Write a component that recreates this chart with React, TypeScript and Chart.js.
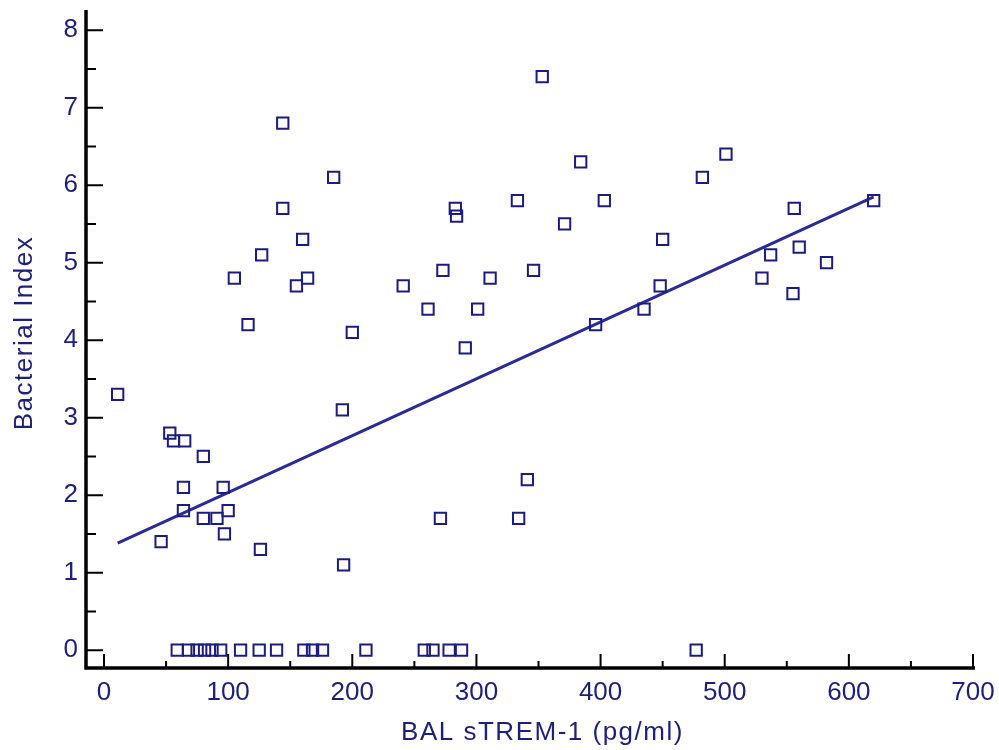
import React, { useEffect, useRef } from "react";
import { Chart, registerables } from "chart.js";

Chart.register(...registerables);

// BAL sTREM-1 (pg/ml) and Bacterial Index, one entry per patient
const stremValues = [
  11, 46, 53, 56, 65, 64, 64, 80, 80, 91, 96, 100, 97, 126, 105, 116, 127, 144, 144, 160,
  155, 164, 185, 192, 193, 200, 241, 261, 273, 283, 284, 291, 301, 311, 271, 333, 334, 341,
  346, 353, 371, 384, 396, 403, 435, 448, 450, 482, 501, 530, 537, 555, 556, 560, 582, 620,
  59, 68, 75, 81, 87, 94, 110, 125, 139, 161, 168, 176, 211, 258, 265, 278, 288, 477,
];
const bacterialIndex = [
  3.3, 1.4, 2.8, 2.7, 2.7, 2.1, 1.8, 2.5, 1.7, 1.7, 2.1, 1.8, 1.5, 1.3, 4.8, 4.2, 5.1, 6.8, 5.7, 5.3,
  4.7, 4.8, 6.1, 3.1, 1.1, 4.1, 4.7, 4.4, 4.9, 5.7, 5.6, 3.9, 4.4, 4.8, 1.7, 5.8, 1.7, 2.2,
  4.9, 7.4, 5.5, 6.3, 4.2, 5.8, 4.4, 4.7, 5.3, 6.1, 6.4, 4.8, 5.1, 4.6, 5.7, 5.2, 5.0, 5.8,
  0, 0, 0, 0, 0, 0, 0, 0, 0, 0, 0, 0, 0, 0, 0, 0, 0, 0,
];

// regression line end points
const fitX = [11, 620];
const fitY = [1.38, 5.85];

// axes ticks
const xTicks = [0, 100, 200, 300, 400, 500, 600, 700];
const xMinorTicks = [50, 150, 250, 350, 450, 550, 650];
const yTicks = [0, 1, 2, 3, 4, 5, 6, 7, 8];
const yMinorTicks = [0.5, 1.5, 2.5, 3.5, 4.5, 5.5, 6.5, 7.5];

const xTitle = "BAL sTREM-1 (pg/ml)";
const yTitle = "Bacterial Index";

const NAVY = "#1e1e7c";
const FONT = '"Liberation Sans", Arial, Helvetica, sans-serif';

const axesPlugin = {
  id: "axesTicks",
  afterDatasetsDraw(chart: any) {
    const { ctx, chartArea, scales } = chart;
    const { left, right, top, bottom } = chartArea;
    const x = scales.x;
    const y = scales.y;
    ctx.save();
    ctx.strokeStyle = "#000";
    ctx.lineCap = "butt";
    ctx.lineWidth = 3.5;
    ctx.beginPath();
    ctx.moveTo(left, top);
    ctx.lineTo(left, bottom);
    ctx.lineTo(right + 2, bottom);
    ctx.stroke();

    ctx.lineWidth = 2;
    ctx.beginPath();
    xTicks.forEach((v) => {
      const px = x.getPixelForValue(v);
      ctx.moveTo(px, bottom);
      ctx.lineTo(px, bottom - 14);
    });
    xMinorTicks.forEach((v) => {
      const px = x.getPixelForValue(v);
      ctx.moveTo(px, bottom);
      ctx.lineTo(px, bottom - 7);
    });
    yTicks.forEach((v) => {
      const py = y.getPixelForValue(v);
      ctx.moveTo(left, py);
      ctx.lineTo(left + 17, py);
    });
    yMinorTicks.forEach((v) => {
      const py = y.getPixelForValue(v);
      ctx.moveTo(left, py);
      ctx.lineTo(left + 10, py);
    });
    ctx.stroke();

    // titles
    ctx.fillStyle = NAVY;
    ctx.font = `26px ${FONT}`;
    try {
      (ctx as any).letterSpacing = "1.5px";
    } catch (e) {}
    ctx.textAlign = "center";
    ctx.textBaseline = "alphabetic";
    const xc = (x.getPixelForValue(xTicks[0]) + x.getPixelForValue(xTicks[xTicks.length - 1])) / 2 + 4;
    ctx.fillText(xTitle, xc, 740);

    ctx.translate(25, (top + bottom) / 2 - 6);
    ctx.rotate(-Math.PI / 2);
    ctx.textBaseline = "middle";
    ctx.fillText(yTitle, 0, 0);
    ctx.restore();
  },
};

export default function App() {
  const canvasRef = useRef<HTMLCanvasElement | null>(null);

  useEffect(() => {
    if (!canvasRef.current) return;
    const points = stremValues.map((v, i) => ({ x: v, y: bacterialIndex[i] }));
    const fit = fitX.map((v, i) => ({ x: v, y: fitY[i] }));
    const chart = new Chart(canvasRef.current, {
      type: "scatter",
      data: {
        datasets: [
          {
            label: "Patients",
            data: points,
            pointStyle: "rect",
            pointRadius: 8,
            pointHoverRadius: 8,
            borderWidth: 2,
            borderColor: "#1c1c80",
            backgroundColor: "rgba(0,0,0,0)",
          },
          {
            label: "Regression",
            data: fit,
            showLine: true,
            pointRadius: 0,
            borderWidth: 3,
            borderColor: "#2a2a98",
            backgroundColor: "#2a2a98",
          },
        ],
      },
      plugins: [axesPlugin],
      options: {
        animation: false,
        responsive: false,
        layout: { padding: { top: 10, right: 26, left: 0, bottom: 0 } },
        plugins: {
          legend: { display: false },
          tooltip: { enabled: false },
        },
        scales: {
          x: {
            type: "linear",
            min: -14.5,
            max: 700,
            afterBuildTicks: (scale: any) => {
              scale.ticks = xTicks.map((v) => ({ value: v }));
            },
            afterFit: (scale: any) => {
              scale.height = 82;
              scale.paddingLeft = 0;
              scale.paddingRight = 0;
              scale.paddingTop = 0;
              scale.paddingBottom = 0;
            },
            grid: { display: false, drawTicks: false },
            border: { display: false },
            ticks: {
              color: NAVY,
              font: { family: FONT, size: 26 },
              padding: 9,
              maxRotation: 0,
              autoSkip: false,
            },
          },
          y: {
            type: "linear",
            min: -0.23,
            max: 8.26,
            afterBuildTicks: (scale: any) => {
              scale.ticks = yTicks.map((v) => ({ value: v }));
            },
            afterFit: (scale: any) => {
              scale.width = 86;
              scale.paddingLeft = 0;
              scale.paddingRight = 0;
              scale.paddingTop = 0;
              scale.paddingBottom = 0;
            },
            grid: { display: false, drawTicks: false },
            border: { display: false },
            ticks: {
              color: NAVY,
              font: { family: FONT, size: 26 },
              padding: 8,
              autoSkip: false,
            },
          },
        },
      },
    });
    return () => chart.destroy();
  }, []);

  return (
    <div style={{ position: "fixed", left: 0, top: 0, width: 999, height: 750, background: "#fff" }}>
      <canvas ref={canvasRef} width={999} height={750} style={{ display: "block" }} />
    </div>
  );
}
